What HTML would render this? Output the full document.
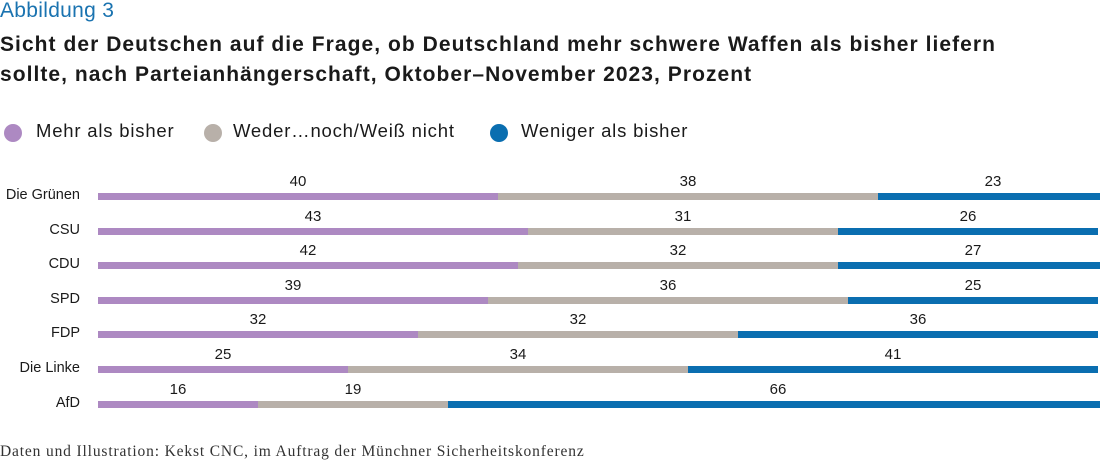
<!DOCTYPE html>
<html><head><meta charset="utf-8"><style>
body{margin:0;width:1102px;height:463px;background:#fff;font-family:"Liberation Sans","DejaVu Sans",sans-serif;position:relative;overflow:hidden;color:#1a1a1a}
.a{position:absolute;white-space:nowrap}
</style></head><body>
<div class="a" style="left:0;top:-1px;font-size:21px;color:#1a73b0;letter-spacing:0.3px">Abbildung 3</div>
<div class="a" style="left:0;top:30px;font-size:21px;font-weight:bold;line-height:30px;letter-spacing:1.05px">Sicht der Deutschen auf die Frage, ob Deutschland mehr schwere Waffen als bisher liefern<br>sollte, nach Parteianhängerschaft, Oktober–November 2023, Prozent</div>
<div class="a" style="left:4px;top:124px;width:18px;height:18px;border-radius:50%;background:#ad89c2"></div>
<div class="a" style="left:36px;top:120px;font-size:18.5px;letter-spacing:0.8px">Mehr als bisher</div>
<div class="a" style="left:204px;top:124px;width:18px;height:18px;border-radius:50%;background:#b8b0a9"></div>
<div class="a" style="left:233px;top:120px;font-size:18.5px;letter-spacing:0.8px">Weder…noch/Weiß nicht</div>
<div class="a" style="left:490px;top:124px;width:18px;height:18px;border-radius:50%;background:#0a6eb0"></div>
<div class="a" style="left:521px;top:120px;font-size:18.5px;letter-spacing:0.8px">Weniger als bisher</div>
<div id="c"></div>
<div class="a" style="left:0;top:443px;font-size:15.5px;letter-spacing:0.85px;font-family:'Liberation Serif',serif;color:#333">Daten und Illustration: Kekst CNC, im Auftrag der Münchner Sicherheitskonferenz</div>
<script>
var d=[["Die Grünen",40,38,23],["CSU",43,31,26],["CDU",42,32,27],["SPD",39,36,25],["FDP",32,32,36],["Die Linke",25,34,41],["AfD",16,19,66]];
var col=["#ad89c2","#b8b0a9","#0a6eb0"],h="";
d.forEach(function(r,i){var y=193+i*34.6;
h+='<div class="a" style="right:1022px;top:'+(y-6)+'px;font-size:14.5px">'+r[0]+'</div>';
var x=98;for(var k=1;k<4;k++){var w=r[k]*10;var e=Math.min(x+w,1100);
h+='<div class="a" style="left:'+x+'px;top:'+y+'px;width:'+(e-x)+'px;height:7px;background:'+col[k-1]+'"></div>';
h+='<div class="a" style="left:'+(x+w/2-20)+'px;width:40px;text-align:center;top:'+(y-20)+'px;font-size:15px">'+r[k]+'</div>';
x=e;}});
document.getElementById("c").innerHTML=h;
</script>
</body></html>
